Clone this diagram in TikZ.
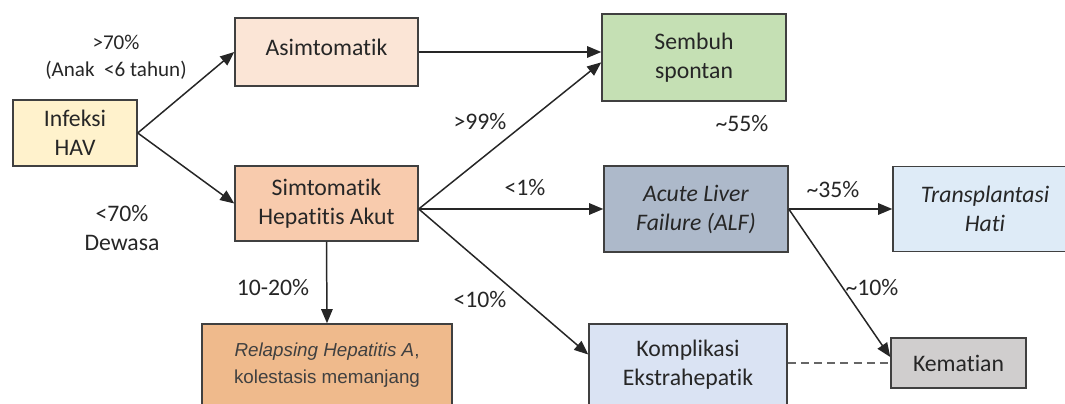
\documentclass[tikz,border=0pt]{standalone}
\usepackage{fontspec}
\setmainfont[Ligatures={NoCommon}]{Carlito}
\newfontfamily\arialfont{Liberation Sans}
\usetikzlibrary{arrows.meta}
\definecolor{ink}{HTML}{262626}
\definecolor{boxline}{HTML}{404040}
\definecolor{havfill}{HTML}{FFF2CC}
\definecolor{asimfill}{HTML}{FBE5D6}
\definecolor{simtfill}{HTML}{F8CBAD}
\definecolor{relapfill}{HTML}{EFBA8C}
\definecolor{sembfill}{HTML}{C5E0B4}
\definecolor{alffill}{HTML}{ADB9CA}
\definecolor{transfill}{HTML}{DEEBF7}
\definecolor{kompfill}{HTML}{DAE3F3}
\definecolor{kemfill}{HTML}{D0CECE}
\tikzset{box/.style={draw=boxline, line width=0.85pt, align=center, text=ink, inner sep=0pt,
  font=\fontsize{13.5}{16.5}\selectfont},
 pct/.style={text=ink, align=center, inner sep=0pt, font=\fontsize{13.5}{16}\selectfont},
 small/.style={text=ink, align=center, inner sep=0pt, font=\fontsize{12}{15.4}\selectfont},
 arr/.style={draw=ink, line width=0.85pt, -{Triangle[length=8pt,width=6.5pt]}},
 }

\begin{document}
\begin{tikzpicture}[x=0.02cm, y=-0.02cm]
        \useasboundingbox (0,0) rectangle (1065,404);
        \clip (0,0) rectangle (1065,404);
        \node[box, fill=havfill, minimum width=2.48cm, minimum height=1.32cm] (inf) at (75,133) {Infeksi\\HAV};
        \node[box, fill=asimfill, minimum width=3.66cm, minimum height=1.36cm] (asim) at (326.5,52) {\raisebox{5pt}{Asimtomatik}};
        \node[box, fill=simtfill, minimum width=3.66cm, minimum height=1.5cm] (simt) at (326.5,203.5) {Simtomatik\\Hepatitis Akut};
        \node[box, fill=relapfill, minimum width=5cm, minimum height=1.64cm, text=boxline,
              font=\arialfont\fontsize{10.7}{15.4}\selectfont] (relap) at (327,365)
              {\textit{Relapsing Hepatitis A},\\kolestasis memanjang};
        \node[box, fill=sembfill, minimum width=3.68cm, minimum height=1.74cm] (semb) at (694,57.5) {Sembuh\\spontan};
        \node[box, fill=alffill, minimum width=3.68cm, minimum height=1.72cm] (alf) at (696,209) {\textit{Acute Liver}\\\textit{Failure (ALF)}};
        \node[box, fill=transfill, minimum width=3.68cm, minimum height=1.7cm] (trans) at (985,209) {\textit{Transplantasi}\\\textit{Hati}};
        \node[box, fill=kompfill, minimum width=3.96cm, minimum height=1.64cm] (komp) at (688,365) {Komplikasi\\Ekstrahepatik};
        \node[box, fill=kemfill, minimum width=2.7cm, minimum height=1cm] (kem) at (958.5,363) {Kematian};

        \coordinate (fork) at (alf.west -| simt.east);
        \draw[arr] (inf.east) -- (asim.west);
        \draw[arr] (inf.east) -- (simt.west);
        \draw[arr] (asim.east) -- (asim.east -| semb.west);
        \draw[arr] (fork) -- (semb.183);
        \draw[arr] (fork) -- (alf.west);
        \draw[arr] (fork) -- (komp.174);
        \draw[arr] (simt.south) -- (relap.north);
        \draw[arr] (alf.east) -- (trans.west);
        \draw[arr] (alf.east) -- (kem.175);
        \draw[draw=boxline!80, line width=0.85pt, dash pattern=on 4.5pt off 3pt] (kem.west -| komp.east) -- (kem.west);

        \node[small] (anak) at (116,57) {>70\%\\(Anak\ \ <6 tahun)};
        \node[pct] (dewasa) at (122,228) {<70\%\\Dewasa};
        \node[pct] (p99) at (480,122) {>99\%};
        \node[pct] (p1) at (525,188) {<1\%};
        \node[pct] (p1020) at (273,288) {10-20\%};
        \node[pct] (p10) at (480,300) {<10\%};
        \node[pct] (p55) at (742,124) {\textasciitilde55\%};
        \node[pct] (p35) at (833,190) {\textasciitilde35\%};
        \node[pct] (p10b) at (872,288) {\textasciitilde10\%};
    \end{tikzpicture}
\end{document}
